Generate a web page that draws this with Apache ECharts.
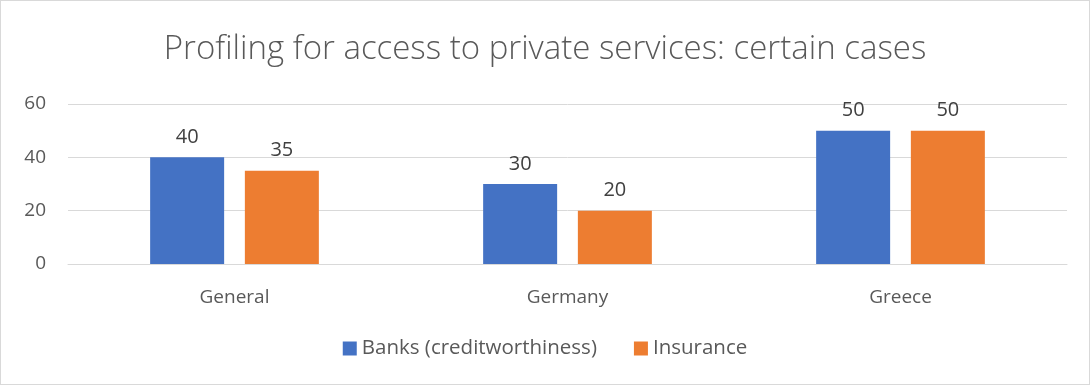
<!DOCTYPE html>
<html>
<head>
<meta charset="utf-8">
<script src="https://cdn.jsdelivr.net/npm/echarts@6/dist/echarts.min.js"></script>
<style>
  html, body { margin: 0; padding: 0; background: #fff; }
  #chart { width: 1090px; height: 385px; box-sizing: border-box; border: 1px solid #d9d9d9; }
</style>
</head>
<body>
<div id="chart"></div>
<script>
var categories = ['General', 'Germany', 'Greece'];
var banks = [40, 30, 50];
var insurance = [35, 20, 50];
var yTicks = [0, 20, 40, 60];

var myChart = echarts.init(document.getElementById('chart'), null, { renderer: 'canvas' });

var font = 'Open Sans, sans-serif';

var option = {
    animation: false,
    title: {
        text: 'Profiling for access to private services: certain cases',
        left: 'center',
        top: 27,
        textStyle: { fontFamily: font, fontWeight: 300, fontSize: 33, color: '#595959' }
    },
    grid: { left: 67, right: 22, top: 103, bottom: 120 },
    legend: {
        bottom: 20,
        left: 'center',
        itemWidth: 14,
        itemHeight: 14,
        itemGap: 37,
        icon: 'rect',
        textStyle: { fontFamily: font, fontSize: 20.5, color: '#595959' },
        data: ['Banks (creditworthiness)', 'Insurance']
    },
    xAxis: {
        type: 'category',
        data: categories,
        axisLine: { lineStyle: { color: '#d9d9d9', width: 1 } },
        axisTick: { show: false },
        axisLabel: { fontFamily: font, fontSize: 19, color: '#595959', margin: 24 }
    },
    yAxis: {
        type: 'value',
        min: yTicks[0],
        max: yTicks[yTicks.length - 1],
        interval: 20,
        axisLine: { show: false },
        axisTick: { show: false },
        axisLabel: { fontFamily: font, fontSize: 19, color: '#595959', margin: 22 },
        splitLine: { lineStyle: { color: '#d9d9d9', width: 1 } }
    },
    series: [
        {
            name: 'Banks (creditworthiness)',
            type: 'bar',
            data: banks,
            barWidth: 74,
            barGap: '28%',
            itemStyle: { color: '#4472c4' },
            label: { show: true, position: 'top', distance: 10, fontFamily: font, fontSize: 20, color: '#404040' }
        },
        {
            name: 'Insurance',
            type: 'bar',
            data: insurance,
            barWidth: 74,
            itemStyle: { color: '#ed7d31' },
            label: { show: true, position: 'top', distance: 10, fontFamily: font, fontSize: 20, color: '#404040' }
        }
    ]
};

myChart.setOption(option);
</script>
</body>
</html>
